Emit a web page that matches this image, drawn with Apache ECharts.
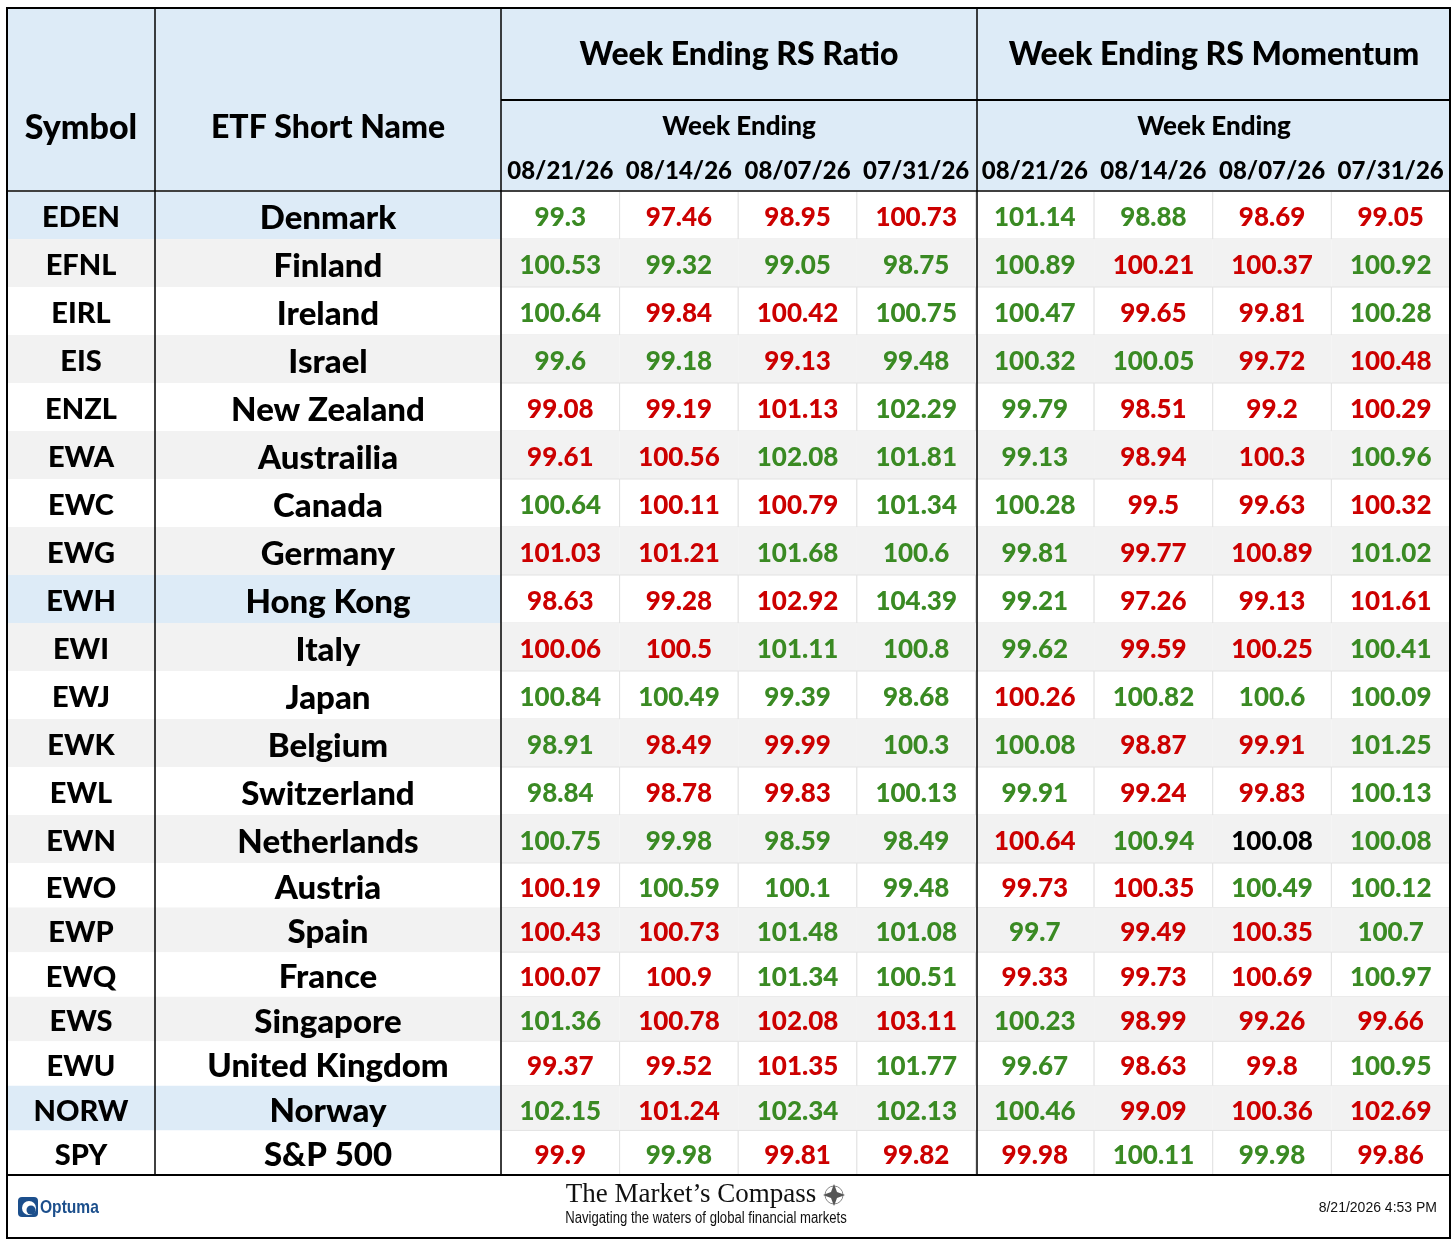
<!DOCTYPE html>
<html>
<head>
<meta charset="utf-8">
<script src="https://cdn.jsdelivr.net/npm/echarts@6/dist/echarts.min.js"></script>
<style>
  html, body { margin: 0; padding: 0; background: #fff; }
  #table_1 { width: 1456px; height: 1243px; }
</style>
</head>
<body>
<div id="table_1"></div>
<script>
// table contents
var symbols = ['EDEN', 'EFNL', 'EIRL', 'EIS', 'ENZL', 'EWA', 'EWC', 'EWG', 'EWH', 'EWI', 'EWJ',
  'EWK', 'EWL', 'EWN', 'EWO', 'EWP', 'EWQ', 'EWS', 'EWU', 'NORW', 'SPY'];
var names = ['Denmark', 'Finland', 'Ireland', 'Israel', 'New Zealand', 'Austrailia', 'Canada', 'Germany',
  'Hong Kong', 'Italy', 'Japan', 'Belgium', 'Switzerland', 'Netherlands', 'Austria', 'Spain', 'France',
  'Singapore', 'United Kingdom', 'Norway', 'S&P 500'];
var highlighted = ['EDEN', 'EWH', 'NORW'];
var weeks = ['08/21/26', '08/14/26', '08/07/26', '07/31/26'];

var rsRatio = [
  [99.3, 97.46, 98.95, 100.73],
  [100.53, 99.32, 99.05, 98.75],
  [100.64, 99.84, 100.42, 100.75],
  [99.6, 99.18, 99.13, 99.48],
  [99.08, 99.19, 101.13, 102.29],
  [99.61, 100.56, 102.08, 101.81],
  [100.64, 100.11, 100.79, 101.34],
  [101.03, 101.21, 101.68, 100.6],
  [98.63, 99.28, 102.92, 104.39],
  [100.06, 100.5, 101.11, 100.8],
  [100.84, 100.49, 99.39, 98.68],
  [98.91, 98.49, 99.99, 100.3],
  [98.84, 98.78, 99.83, 100.13],
  [100.75, 99.98, 98.59, 98.49],
  [100.19, 100.59, 100.1, 99.48],
  [100.43, 100.73, 101.48, 101.08],
  [100.07, 100.9, 101.34, 100.51],
  [101.36, 100.78, 102.08, 103.11],
  [99.37, 99.52, 101.35, 101.77],
  [102.15, 101.24, 102.34, 102.13],
  [99.9, 99.98, 99.81, 99.82]
];
var rsMomentum = [
  [101.14, 98.88, 98.69, 99.05],
  [100.89, 100.21, 100.37, 100.92],
  [100.47, 99.65, 99.81, 100.28],
  [100.32, 100.05, 99.72, 100.48],
  [99.79, 98.51, 99.2, 100.29],
  [99.13, 98.94, 100.3, 100.96],
  [100.28, 99.5, 99.63, 100.32],
  [99.81, 99.77, 100.89, 101.02],
  [99.21, 97.26, 99.13, 101.61],
  [99.62, 99.59, 100.25, 100.41],
  [100.26, 100.82, 100.6, 100.09],
  [100.08, 98.87, 99.91, 101.25],
  [99.91, 99.24, 99.83, 100.13],
  [100.64, 100.94, 100.08, 100.08],
  [99.73, 100.35, 100.49, 100.12],
  [99.7, 99.49, 100.35, 100.7],
  [99.33, 99.73, 100.69, 100.97],
  [100.23, 98.99, 99.26, 99.66],
  [99.67, 98.63, 99.8, 100.95],
  [100.46, 99.09, 100.36, 102.69],
  [99.98, 100.11, 99.98, 99.86]
];
// G = green, R = red, K = black, as printed
var ratioColors = ['GRRR', 'GGGG', 'GRRG', 'GGRG', 'RRRG', 'RRGG', 'GRRG', 'RRGG', 'RRRG', 'RRGG', 'GGGG',
  'GRRG', 'GRRG', 'GGGG', 'RGGG', 'RRGG', 'RRGG', 'GRRR', 'RRRG', 'GRGG', 'RGRR'];
var momentumColors = ['GGRR', 'GRRG', 'GRRG', 'GGRR', 'GRRR', 'GRRG', 'GRRR', 'GRRG', 'GRRR', 'GRRG', 'RGGG',
  'GRRG', 'GRRG', 'RGKG', 'RRGG', 'GRRG', 'RRRG', 'GRRR', 'GRRG', 'GRRR', 'RGGR'];

var textColor = { G: '#3a8a23', R: '#cc0000', K: '#000000' };
var font = 'Lato, "Open Sans", sans-serif';
var weight = '900';

// layout (pixels)
var colGroups = [
  { left: 7, width: 148 },     // symbol
  { left: 155, width: 346 },   // name
  { left: 501, width: 949 }    // 8 value columns
];
var rowGroups = [
  { top: 191, height: 672, from: 0, to: 14 },
  { top: 863, height: 312, from: 14, to: 21 }
];
var cellFont = [29, 33, 26];

var myChart = echarts.init(document.getElementById('table_1'));

var grids = [], xAxes = [], yAxes = [], series = [];

function rowFill(i, col) {
  if (col < 2 && highlighted.indexOf(symbols[i]) >= 0) return '#ddebf7';
  return i % 2 === 1 ? '#f2f2f2' : '#ffffff';
}

function renderCell(params, api) {
  var c = api.coord([api.value(0), api.value(1)]);
  var s = api.size([1, 1]);
  var row = api.value(3);
  var col = api.value(4);
  var fill = rowFill(row, col);
  var isValue = col === 2;
  return {
    type: 'group',
    children: [{
      type: 'rect',
      shape: { x: c[0] - s[0] / 2, y: c[1] - s[1] / 2, width: s[0], height: s[1] },
      style: {
        fill: fill,
        stroke: (isValue && fill === '#ffffff') ? '#e2e2e2' : null,
        lineWidth: 1
      }
    }, {
      type: 'text',
      style: {
        text: String(api.value(2)),
        x: c[0],
        y: c[1] + 3,
        align: 'center',
        verticalAlign: 'middle',
        fill: isValue ? textColor[api.value(5)] : '#000',
        font: weight + ' ' + cellFont[col] + 'px ' + font
      }
    }]
  };
}

rowGroups.forEach(function (rg, r) {
  colGroups.forEach(function (cg, c) {
    var gi = grids.length;
    grids.push({ left: cg.left, top: rg.top, width: cg.width, height: rg.height });
    var xData = c === 0 ? ['Symbol'] : c === 1 ? ['ETF Short Name'] : weeks.concat(weeks);
    xAxes.push({
      type: 'category', gridIndex: gi, data: xData, position: 'top',
      show: r === 0,
      axisLine: { show: false }, axisTick: { show: false }, splitLine: { show: false },
      axisLabel: {
        interval: 0, color: '#000', fontWeight: weight, fontFamily: font,
        fontSize: c === 2 ? 24 : (c === 0 ? 34 : 32),
        margin: c === 2 ? 20 : 63,
        verticalAlign: 'middle'
      }
    });
    yAxes.push({
      type: 'category', gridIndex: gi, inverse: true, show: false,
      data: symbols.slice(rg.from, rg.to)
    });
    var data = [];
    for (var i = rg.from; i < rg.to; i++) {
      var y = i - rg.from;
      if (c === 0) data.push([0, y, symbols[i], i, 0, '']);
      else if (c === 1) data.push([0, y, names[i], i, 1, '']);
      else {
        for (var k = 0; k < 4; k++) {
          data.push([k, y, rsRatio[i][k], i, 2, ratioColors[i].charAt(k)]);
          data.push([k + 4, y, rsMomentum[i][k], i, 2, momentumColors[i].charAt(k)]);
        }
      }
    }
    series.push({
      type: 'custom', xAxisIndex: gi, yAxisIndex: gi, clip: false,
      renderItem: renderCell, data: data, silent: true,
      dimensions: ['x', 'y', 'text', 'row', 'col', 'color'],
      encode: { x: 0, y: 1 }
    });
  });
});

function line(x1, y1, x2, y2, w, color) {
  return { type: 'line', z: 100, shape: { x1: x1, y1: y1, x2: x2, y2: y2 },
    style: { stroke: color || '#000', lineWidth: w } };
}

function headText(text, x, y, size) {
  return { type: 'text', z: 50, style: { text: text, x: x, y: y, align: 'center', verticalAlign: 'middle',
    font: weight + ' ' + size + 'px ' + font, fill: '#000' } };
}

var graphics = [
  // header background
  { type: 'rect', z: -10, shape: { x: 7, y: 8, width: 1443, height: 183 }, style: { fill: '#ddebf7' } },
  headText('Week Ending RS Ratio', 739, 55, 32),
  headText('Week Ending RS Momentum', 1214, 55, 32),
  headText('Week Ending', 739, 127, 26),
  headText('Week Ending', 1214, 127, 26),
  // rules
  line(501, 100, 1450, 100, 2),
  line(7, 191, 1450, 191, 2, '#404040'),
  line(155, 8, 155, 1175, 1.5),
  line(501, 8, 501, 1175, 1.5),
  line(977, 8, 977, 1175, 1.5),
  line(7, 1175, 1450, 1175, 2),
  { type: 'rect', z: 100, shape: { x: 7, y: 8, width: 1443, height: 1230 },
    style: { fill: null, stroke: '#000', lineWidth: 2 } },
  // footer
  { type: 'rect', z: 60, shape: { x: 18, y: 1197, width: 20, height: 20, r: 4 }, style: { fill: '#1c4f8c' } },
  { type: 'circle', z: 61, shape: { cx: 29, cy: 1208, r: 7 }, style: { fill: '#fff' } },
  { type: 'circle', z: 62, shape: { cx: 31, cy: 1210, r: 4.5 }, style: { fill: '#1c4f8c' } },
  { type: 'text', z: 60, x: 40, y: 1208, scaleX: 0.82, style: { text: 'Optuma', x: 0, y: 0, verticalAlign: 'middle',
      font: 'bold 19px "Liberation Sans", sans-serif', fill: '#1c4f8c' } },
  { type: 'text', z: 60, style: { text: 'The Market\u2019s Compass', x: 691, y: 1195, align: 'center', verticalAlign: 'middle',
      font: '27px "Liberation Serif", serif', fill: '#111' } },
  { type: 'circle', z: 60, shape: { cx: 834, cy: 1195, r: 9 }, style: { fill: '#fff', stroke: '#888', lineWidth: 1 } },
  { type: 'polygon', z: 61, shape: { points: [[834, 1184], [837, 1192], [845, 1195], [837, 1198], [834, 1206],
      [831, 1198], [823, 1195], [831, 1192]] }, style: { fill: '#555' } },
  { type: 'text', z: 60, x: 706, y: 1219, scaleX: 0.82, style: { text: 'Navigating the waters of global financial markets',
      x: 0, y: 0, align: 'center', verticalAlign: 'middle',
      font: '16px "Liberation Sans", sans-serif', fill: '#111' } },
  { type: 'text', z: 60, style: { text: '8/21/2026 4:53 PM', x: 1437, y: 1208, align: 'right', verticalAlign: 'middle',
      font: '14px "Liberation Sans", sans-serif', fill: '#111' } }
];

var option = {
  backgroundColor: '#fff',
  animation: false,
  grid: grids,
  xAxis: xAxes,
  yAxis: yAxes,
  series: series,
  graphic: { elements: graphics }
};

myChart.setOption(option);
window.addEventListener('resize', function () {
  myChart.resize();
});
</script>
</body>
</html>
